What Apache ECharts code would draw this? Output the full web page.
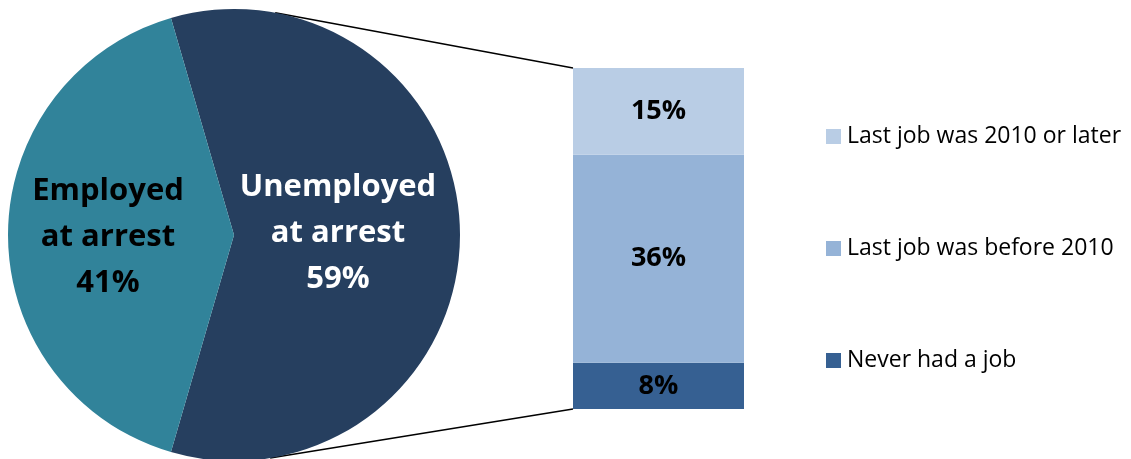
<!DOCTYPE html>
<html>
<head>
<meta charset="utf-8">
<style>
  html, body { margin: 0; padding: 0; background: #ffffff; }
  #chart { width: 1131px; height: 459px; }
</style>
<script src="https://cdn.jsdelivr.net/npm/echarts@6/dist/echarts.min.js"></script>
</head>
<body>
<div id="chart"></div>
<script>
// Employment status at arrest (pie) and breakdown of the unemployed share (stacked bar)
const pieNames = ['Unemployed\nat arrest', 'Employed\nat arrest'];
const pieValues = [59, 41];
const pieColors = ['#263F5F', '#31839A'];
const pieLabelColors = ['#ffffff', '#000000'];

const barNames = ['Never had a job', 'Last job was before 2010', 'Last job was 2010 or later'];
const barValues = [8, 36, 15];
const barColors = ['#366092', '#95B3D7', '#B9CDE5'];
const legendOrder = ['Last job was 2010 or later', 'Last job was before 2010', 'Never had a job'];

const FONT = '"Open Sans", "Noto Sans", sans-serif';

// layout
const pieCenter = [234, 235];
const pieRadius = 226;
const grid = { left: 573, top: 68, width: 171, height: 341 };
const barTotal = barValues.reduce((a, b) => a + b, 0);

const chart = echarts.init(document.getElementById('chart'), null, { renderer: 'canvas' });

// first slice starts where the employed wedge ends, so the employed wedge sits centred on the left
const startAngle = 180 - (pieValues[1] / (pieValues[0] + pieValues[1])) * 180;

const series = [{
  type: 'pie',
  center: pieCenter,
  radius: [0, pieRadius],
  startAngle: startAngle,
  clockwise: true,
  silent: true,
  animation: false,
  label: {
    show: true,
    position: 'inside',
    fontFamily: FONT,
    fontWeight: 'bold',
    fontSize: 31,
    lineHeight: 46,
    align: 'center',
    formatter: p => p.name + '\n' + p.value + '%'
  },
  labelLine: { show: false },
  labelLayout: p => (p.dataIndex === 1 ? { dx: -5, dy: 1 } : { dx: -6, dy: -1 }),
  data: pieNames.map((n, i) => ({
    name: n,
    value: pieValues[i],
    itemStyle: { color: pieColors[i] },
    label: { color: pieLabelColors[i] }
  }))
}];

barNames.forEach((n, i) => {
  series.push({
    type: 'bar',
    name: n,
    stack: 'unemployed',
    barWidth: '100%',
    silent: true,
    animation: false,
    itemStyle: { color: barColors[i] },
    label: {
      show: true,
      position: 'inside',
      color: '#000000',
      fontFamily: FONT,
      fontWeight: 'bold',
      fontSize: 27,
      formatter: p => p.value + '%'
    },
    data: [barValues[i]]
  });
});

chart.setOption({
  backgroundColor: '#ffffff',
  animation: false,
  grid: grid,
  xAxis: { type: 'category', data: [''], show: false },
  yAxis: { type: 'value', min: 0, max: barTotal, show: false, splitLine: { show: false } },
  legend: {
    orient: 'vertical',
    left: 826,
    top: 125,
    padding: 0,
    itemWidth: 15,
    itemHeight: 15,
    itemGap: 89,
    icon: 'rect',
    data: legendOrder,
    textStyle: { fontFamily: FONT, fontSize: 23, color: '#000000', padding: [0, 0, 0, 1] },
    selectedMode: false
  },
  series: series
});

// connector lines: tangents from the bar's outer corners to the pie's rim
function tangentPoint(P, C, r, upper) {
  const dx = P[0] - C[0], dy = C[1] - P[1];
  const d = Math.hypot(dx, dy);
  const base = Math.atan2(dy, dx);
  const off = Math.acos(r / d);
  const a = upper ? base + off : base - off;
  return [C[0] + r * Math.cos(a), C[1] - r * Math.sin(a)];
}
const topCorner = chart.convertToPixel({ gridIndex: 0 }, [0, barTotal]);
const botCorner = chart.convertToPixel({ gridIndex: 0 }, [0, 0]);
const barLeft = grid.left;
const pTop = [barLeft, topCorner[1]];
const pBot = [barLeft, botCorner[1]];
const tTop = tangentPoint(pTop, pieCenter, pieRadius, true);
const tBot = tangentPoint(pBot, pieCenter, pieRadius, false);

chart.setOption({
  graphic: [
    { type: 'line', silent: true, shape: { x1: tTop[0], y1: tTop[1], x2: pTop[0], y2: pTop[1] }, style: { stroke: '#000000', lineWidth: 1.5 } },
    { type: 'line', silent: true, shape: { x1: tBot[0], y1: tBot[1], x2: pBot[0], y2: pBot[1] }, style: { stroke: '#000000', lineWidth: 1.5 } }
  ]
});
</script>
</body>
</html>
